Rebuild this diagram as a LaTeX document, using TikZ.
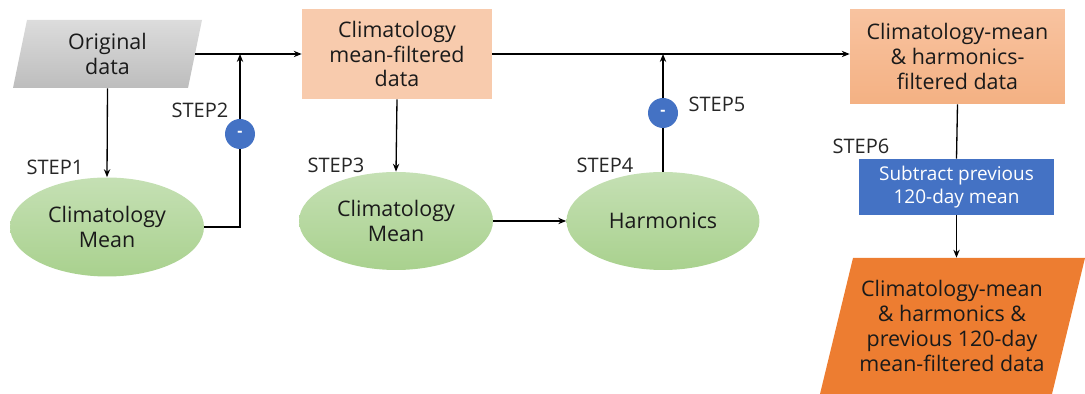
\documentclass[tikz,border=0pt]{standalone}
\usepackage{fontspec}
\setmainfont{Open Sans}
\usetikzlibrary{shapes.geometric,arrows.meta,calc}
\definecolor{txt}{HTML}{1A1A1A}
\definecolor{peach}{HTML}{F8CBAD}
\definecolor{peachtop}{HTML}{F8C3A0}
\definecolor{peachbot}{HTML}{F4B183}
\definecolor{orangeout}{HTML}{ED7D31}
\definecolor{bluebox}{HTML}{4472C4}
\definecolor{greentop}{HTML}{C5E0B4}
\definecolor{greenbot}{HTML}{A9D18E}
\definecolor{graytop}{HTML}{DCDCDC}
\definecolor{graybot}{HTML}{BDBDBD}
\tikzset{
  lbl/.style={font=\fontsize{12.2}{14.2}\selectfont, text=txt, align=center},
  steplbl/.style={font=\fontsize{11.4}{13}\selectfont, text=black!85},
  ovalnode/.style={lbl, ellipse, top color=greentop, bottom color=greenbot, draw=none,
    minimum width=3.88cm, minimum height=1.98cm, inner sep=0pt},
  databox/.style={lbl, rectangle, inner sep=0pt},
  minusnode/.style={circle, fill=bluebox, draw=none, minimum size=0.6cm, inner sep=0pt,
    text=white, font=\fontsize{9}{9}\selectfont\bfseries},
  conn/.style={line width=0.75pt, draw=black},
  arr/.style={conn, -{Stealth[length=4.5pt,width=3.6pt]}},
}
\begin{document}
\begin{tikzpicture}[x=0.02cm,y=-0.02cm]
\useasboundingbox (0,0) rectangle (1085,394);

% input parallelogram
\shade[top color=graytop, bottom color=graybot] (27,20) -- (202,20) -- (188,88) -- (13,88) -- cycle;
\node[databox, minimum width=3.5cm, minimum height=1.36cm] (orig) at (107.5,54) {Original\\data};

% filtered data boxes
\node[databox, fill=peach, minimum width=3.8cm, minimum height=1.8cm] (cmf) at (397,54) {Climatology\\mean-filtered\\data};
\node[databox, top color=peachtop, bottom color=peachbot, minimum width=4.3cm, minimum height=1.9cm] (chf) at (957.5,56.5) {Climatology-mean\\\& harmonics-\\filtered data};
\node[databox, fill=bluebox, text=white, font=\fontsize{10.8}{13.2}\selectfont, minimum width=3.9cm, minimum height=1.12cm] (sub) at (956.5,187) {Subtract previous\\120-day mean};

% output parallelogram
\fill[orangeout] (853,258) -- (1085,258) -- (1052,394) -- (820,394) -- cycle;
\node[databox, minimum width=4.64cm, minimum height=2.72cm] (final) at (952,326) {Climatology-mean\\\& harmonics \&\\previous 120-day\\mean-filtered data};

% computation ellipses
\node[ovalnode] (cm1) at (107,227) {Climatology\\Mean};
\node[ovalnode, minimum height=1.96cm] (cm2) at (396,221) {Climatology\\Mean};
\node[ovalnode, minimum width=3.86cm, minimum height=1.96cm] (harm) at (663,221) {Harmonics};

% subtraction markers
\node[minusnode] (m1) at (240,134) {-};
\node[minusnode] (m2) at (663,113) {-};

% step labels
\node[steplbl] (s1) at (55,167) {STEP1};
\node[steplbl] (s2) at (200,110) {STEP2};
\node[steplbl] (s3) at (336,165) {STEP3};
\node[steplbl] (s4) at (605,165) {STEP4};
\node[steplbl] (s5) at (717,104) {STEP5};
\node[steplbl] (s6) at (861,146) {STEP6};

% connectors
\draw[arr] (orig.east) -- (cmf.west);
\draw[arr] (orig.south) -- (cm1.north);
\draw[conn] (cm1.east) -| (m1.south);
\draw[arr] (m1.north) -- (m1.north |- orig.east);
\draw[arr] (cmf.south) -- (cm2.north);
\draw[arr] (cm2.east) -- (harm.west);
\draw[arr] (cmf.east) -- (cmf.east -| chf.west);
\draw[conn] (harm.north) -- (m2.south);
\draw[arr] (m2.north) -- (m2.north |- cmf.east);
\draw[conn] (chf.south) -- (sub.north);
\draw[arr] (sub.south) -- (sub.south |- final.north);
\end{tikzpicture}
\end{document}
